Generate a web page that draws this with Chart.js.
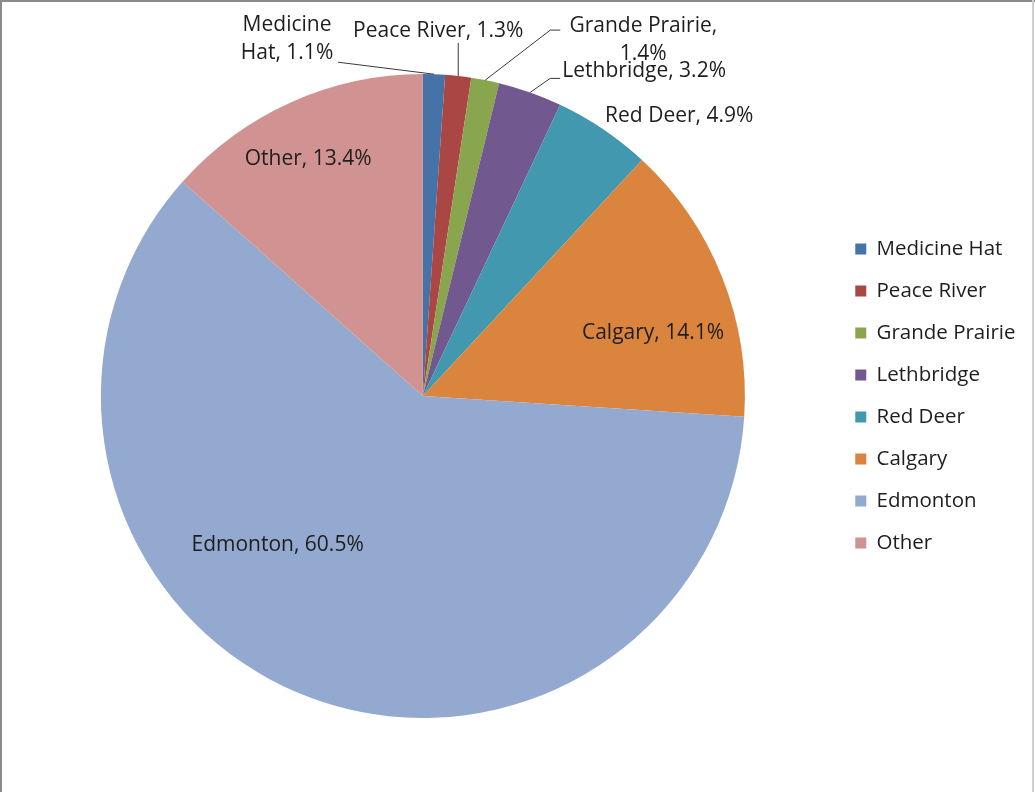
<!DOCTYPE html>
<html>
<head>
<meta charset="utf-8">
<script src="https://cdn.jsdelivr.net/npm/chart.js@4.4.1/dist/chart.umd.min.js"></script>
<style>
  html, body { margin: 0; padding: 0; background: #ffffff; }
  #wrap { position: relative; width: 1035px; height: 792px; overflow: hidden; background: #fff; }
  #c { position: absolute; left: 0; top: 0; }
  .bt { position: absolute; left: 0; top: 0; width: 1035px; height: 2px; background: #8a8a8a; }
  .bl { position: absolute; left: 0; top: 0; width: 2px; height: 792px; background: #8a8a8a; }
  .br { position: absolute; left: 1032px; top: 0; width: 2px; height: 792px; background: #d0d0d0; }
</style>
</head>
<body>
<div id="wrap">
  <canvas id="c" width="1035" height="792"></canvas>
  <div class="bt"></div><div class="bl"></div><div class="br"></div>
</div>
<script>
// ---- data ----
const categories = ["Medicine Hat", "Peace River", "Grande Prairie", "Lethbridge", "Red Deer", "Calgary", "Edmonton", "Other"];
const shares = [1.1, 1.3, 1.4, 3.2, 4.9, 14.1, 60.5, 13.4];
const sliceColors = ["#4572A7", "#AA4643", "#89A54E", "#71588F", "#4198AF", "#DB843D", "#93A9CF", "#D19392"];
const labelLines = [
  ["Medicine", "Hat, 1.1%"],
  ["Peace River, 1.3%"],
  ["Grande Prairie,", "1.4%"],
  ["Lethbridge, 3.2%"],
  ["Red Deer, 4.9%"],
  ["Calgary, 14.1%"],
  ["Edmonton, 60.5%"],
  ["Other, 13.4%"]
];

// label placement relative to the slice's outer-edge point at its mid angle
const labelLayout = [
  { dx: -147, dy: -35, leader: [[-96, -12]] },
  { dx: -20, dy: -45, leader: [[0, -33]] },
  { dx: 158, dy: -40, leader: [[65, -50], [75, -50]] },
  { dx: 114, dy: -21, leader: [[20, -14], [30, -14]] },
  { dx: 76, dy: -13 },
  { dx: -69, dy: 56 },
  { dx: -21, dy: -148 },
  { dx: 17, dy: 57 }
];

const FONT = "'Open Sans', Lato, sans-serif";
const LABEL_SIZE = 21;
const LEGEND_SIZE = 20.5;
const TEXT_COLOR = "#1e1e1e";

const pieLabels = {
  id: 'pieLabels',
  afterDatasetsDraw(chart) {
    const ctx = chart.ctx;
    const meta = chart.getDatasetMeta(0);
    ctx.save();
    ctx.font = LABEL_SIZE + "px " + FONT;
    ctx.fillStyle = TEXT_COLOR;
    ctx.textAlign = 'center';
    ctx.textBaseline = 'middle';
    meta.data.forEach((arc, i) => {
      const p = arc.getProps(['x', 'y', 'startAngle', 'endAngle', 'outerRadius'], true);
      const mid = (p.startAngle + p.endAngle) / 2;
      const ex = p.x + Math.cos(mid) * p.outerRadius;
      const ey = p.y + Math.sin(mid) * p.outerRadius;
      const lay = labelLayout[i];
      if (lay.leader) {
        ctx.beginPath();
        ctx.strokeStyle = "#3a3a3a";
        ctx.lineWidth = 1;
        ctx.moveTo(ex, ey);
        lay.leader.forEach(pt => ctx.lineTo(ex + pt[0], ey + pt[1]));
        ctx.stroke();
      }
      const lines = labelLines[i];
      const lh = 28;
      const cx = ex + lay.dx;
      const cy = ey + lay.dy;
      lines.forEach((t, k) => {
        ctx.fillText(t, cx, cy + (k - (lines.length - 1) / 2) * lh);
      });
    });
    ctx.restore();
  }
};

new Chart(document.getElementById('c'), {
  type: 'pie',
  data: {
    labels: categories,
    datasets: [{
      data: shares,
      backgroundColor: sliceColors,
      borderWidth: 0
    }]
  },
  options: {
    responsive: false,
    animation: false,
    layout: { padding: { left: 12, right: 9.5, top: 74, bottom: 74 } },
    plugins: {
      tooltip: { enabled: false },
      legend: {
        position: 'right',
        align: 'center',
        labels: {
          boxWidth: 11,
          boxHeight: 11,
          padding: 21.5,
          color: TEXT_COLOR,
          font: { family: FONT, size: LEGEND_SIZE }
        }
      }
    }
  },
  plugins: [pieLabels]
});
</script>
</body>
</html>
